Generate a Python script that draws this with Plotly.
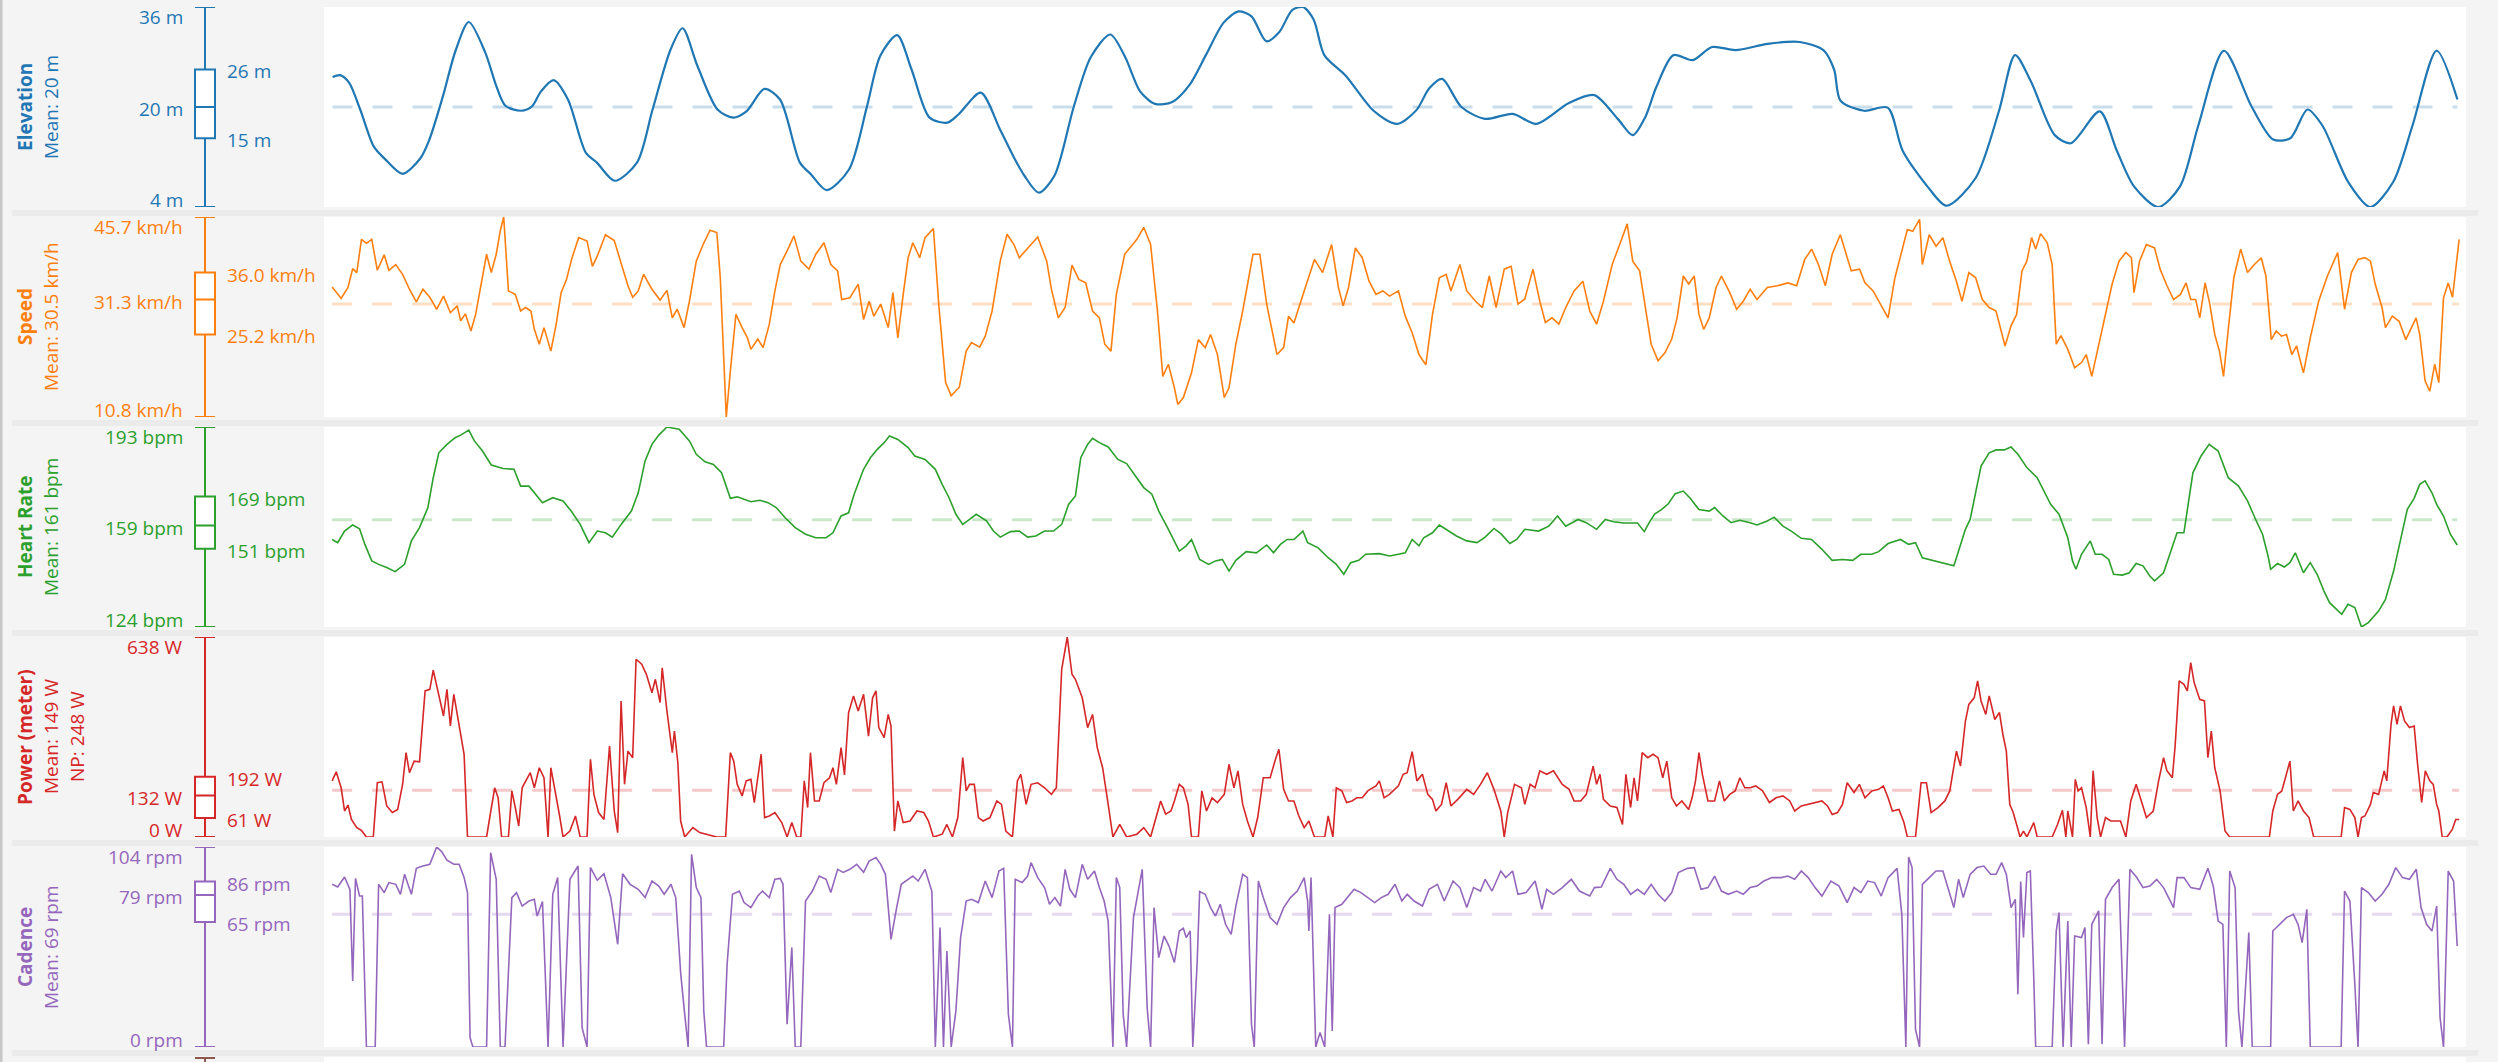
import plotly.graph_objects as go

W, H = 2498, 1062
FONT = "Open Sans"

# ---------------- data (x = ride progress 0..1000) ----------------
elev_t = [4.0,7.5,11.7,16.9,23.2,28.4,36.7,45.0,49.2,55.5,61.6,67.6,75.3,80.5,84.7,92.0,97.1,101.3,107.2,113.9,
          122.2,127.4,135.7,146.1,153.4,161.8,167.4,174.3,183.7,191.0,197.2,205.6,212.9,222.2,227.4,234.7,245.1,253.5,259.7,267.6,
          274.3,282.7,291.0,296.2,306.6,315.6,
          322,327,333.7,341,350,358,367.1,
          374,381,388,396,404,412,420,427,433,440,446,452,457,462,467,477,490,501,510,516,
          522,531,542,555,566,581,593,604,611,617,622,630,639,648,659,674,689,700,705,708,
          719,730,737,749,757.5,771,782,789.5,797,808,815.5,829,837,845,856.4,866.5,875,887,900,910,
          918,926,933,945,955.3,966,975,986.3,996]
elev_m = [24.8,25.1,23.9,19.6,13.7,11.7,9.3,11.8,14.8,21.7,29.2,33.6,28.7,23.3,20.2,19.4,20.1,22.5,24.3,21.2,
          12.7,11.1,8.2,11.1,19.6,29.2,32.6,26.6,19.6,18.3,19.3,22.9,21.2,11.1,9.2,6.7,10.0,20.1,28.2,31.5,
          26.0,18.3,17.5,18.8,22.3,16.4,
          12,9,6.3,9,20,28,31.6,
          28,22.5,20.5,20.8,23.5,28.5,33.5,35.3,34.5,30.5,32,35.5,36,34,28.3,25,19.4,17.3,19.5,23,
          24.5,20,18.1,18.9,17.3,20.6,21.9,18.1,15.5,18.5,23.2,28.3,27.5,29.6,29.1,30.1,30.4,29.1,26,21,
          19.4,19.9,13,7.1,4.2,8.6,19.4,28.3,24,15.5,14.2,19.3,13,7.3,4,7.3,17,29,20,14.8,
          15,19.6,17,8,4,8,17,29,21.2]

speed_t = [3.8,8,11.2,13.4,15.3,17.5,19.8,22.3,24.9,28.1,30.3,33.5,36.7,39.9,43.1,46.2,49.4,52.6,55.8,59,
           62.2,63.8,66,68.6,70.8,73.3,75.9,78.1,80.4,82.3,83.9,86.1,89.3,91.8,94.1,96.6,98.2,100.5,102.7,105.9,
           108.4,110.7,113.2,115.8,118.9,122.8,125.3,127.6,131.4,135.5,138.7,141.9,144.1,146.7,149.2,153.1,156.9,160.1,162.6,164.9,
           168.1,170.6,173.8,177,180.2,183.4,185,186.6,187.8,189.7,192.3,195.2,197.7,199.3,202.5,205,207.9,210.5,213,216.2,
           219.4,222.6,226.4,229.6,233.4,236.6,239.8,241.7,245.5,249.4,251.9,254.5,256.7,259.9,263.4,265.6,267.9,270.4,272.7,274.9,
           278.1,280.6,284.5,287,290.2,292.8,296.6,299.8,302.3,306.1,308.7,311.9,315.7,318.9,322.1,324.6,328.5,333.2,337.4,339.6,
           342.8,346,349.2,352.4,355.6,358.8,362,364.5,367.4,369.9,373.8,376.3,379.5,382.7,385.9,389.1,391.6,394.2,397,398.6,
           401.2,405,408.2,411.4,413.9,417.1,420.3,422.5,425.7,428.9,433.7,436.9,440.1,444.9,448,450.3,452.8,457.6,462.4,466.2,
           470.4,473.6,475.8,478.3,481.5,484.7,487.9,491.1,494.3,497.4,
           501.6,504.8,508,511.2,514.4,517.5,520.7,523.9,526.1,530.3,533.5,537.6,540.8,544,547.2,551,554.2,557.4,560.6,564.4,
           567.6,570.2,573.3,576.5,579.7,583.6,587.7,590.9,594.1,597.3,601.4,605.2,608.4,611,614.2,617.4,619.6,622.8,626,629.2,
           631.7,634.6,637.1,639.7,641.9,644.1,646.7,649.9,652.4,656.3,659.5,662.6,665.8,669,673.8,678.6,683.4,687.5,691.3,694.5,
           697.7,700.9,704.1,707.9,710.5,713,716.9,719.4,723.2,727,730.2,733.4,736.6,739.2,741.7,744.9,746.2,749.4,752.6,755.8,
           758.9,762.1,764.7,767.9,771.1,774.2,777.4,780.6,784.8,787.6,790.2,792.7,795,797.2,799.1,801.4,804.5,806.8,808.7,810.9,
           814.1,817.3,820.5,822.7,825.3,828.5,831.7,834.8,838,841.2,843.8,845,847.6,850.8,854.6,857.2,860.4,863.5,866.7,869.3,
           871.5,873.8,875.7,878.2,880.4,882.7,884.9,886.8,889.1,891.6,894.8,898,901.2,904.4,906.6,909.1,911.4,913.9,916.2,918.7,
           920.9,924.1,927.3,931.2,935.3,940.1,943.3,946.5,949.6,952.8,955.4,957.6,960.8,962.4,965.6,968.8,971.9,975.1,976.7,978.4,
           980.9,983.1,985.4,987.3,989.5,991.7,993.7,996.8]
speed_kmh = [33.5,31.5,33.4,36.7,36,41.8,41.1,41.8,36.4,39.1,36.4,37.4,35.7,33.1,30.9,33.1,31.7,29.6,31.9,29,
             30.2,27.6,28.8,25.8,28.7,33.9,39.2,36,39.2,43.3,45.7,32.8,32.2,29.3,29.9,29.3,26.1,23.5,26.4,22.3,
             27,32.5,34.8,38.6,42.1,41.5,37.1,38.9,42.6,41.6,37.7,33.7,31.7,32.8,35.7,33.1,31.2,32.9,28.1,29.6,
             26.4,31,38,40.9,43.4,43,35.1,22.3,10.8,18.8,28.7,26.4,24.6,22.6,24.4,22.9,27,32.8,37.4,39.8,
             42.4,38,36.6,39.2,41.2,37.4,36.3,31.3,31.6,34,27.8,31,28.4,30.5,26.4,32.5,24.6,32.2,38.6,41.2,
             38.6,42.1,43.7,30.5,16.8,14.5,16,22.3,23.8,23,24.9,29.3,38,42.7,40.9,38.6,40.2,42.2,38,33.1,
             28.1,29.9,37.3,34.8,34.2,29.3,28.1,23.5,22.3,32.2,39.2,40.3,41.8,43.9,40.9,29.3,17.9,20,15.9,13,
             14.2,18.5,24.3,22.9,25.2,21.7,14.2,15.9,23.5,29.3,39.2,39.2,30.5,21.7,22.9,28.4,27.2,32.8,38.3,36,
             40.9,33.4,30.2,33.4,40.3,38.6,34.5,32.2,32.8,31.9,
             32.8,28.4,25.5,21.7,19.9,28.7,35.1,35.7,32.8,37.4,32.8,31,29.9,35.4,29.9,36.6,37.1,30.5,31.4,36.6,
             31,27.3,28.1,27,29.9,32.8,34.5,29.3,27,31,37.4,41.2,44.5,38,36.3,28.7,23.5,20.6,22,24.4,
             28.1,35.4,34,35.4,28.7,26.1,28.1,33.4,35.4,32.5,29.6,31,33.1,31.3,33.4,33.7,34.2,33.7,38.3,40.1,
             37.4,33.7,39.2,42.6,39.5,36.3,36.6,34.2,32.8,30.2,28.1,35.1,39.8,43.5,43.2,45.3,37.4,42.6,40.6,42.1,
             38,34.5,31,36,35.1,31.3,29.9,29.3,23.2,26.7,28.7,36.3,38,42.1,40.1,42.8,41.2,37.4,23.5,25,
             22.6,19.4,20.3,21.7,17.9,23.5,28.7,34,38,39.5,38.6,32.5,38,40.9,40.3,36.6,33.7,31.3,32.2,34.2,
             31.3,31.3,28.1,34.2,30.5,25.2,22.3,17.9,26.4,35.1,40.1,36,37.4,38.6,35.4,24.3,25.8,24.9,25.2,21.7,
             23.2,18.5,24.6,31,35.4,39.5,29.6,36,38.3,38.6,38,34,29.9,26.4,28.4,27.5,24.3,26.7,28.1,25.2,
             17.1,15.3,20,16.8,31.6,34.2,31.7,41.8]

hr_t = [3.8,6.4,9.6,13.4,16.6,19.1,22.3,25.5,29.3,33.2,37.6,40.8,44.6,48.5,51,53.6,57.4,61.2,63.8,67.6,
        70.2,74,78.1,83.6,88.7,91.8,95.7,98.9,102,106.8,111.6,115.4,119.6,123.7,127.6,131.4,134.6,138.7,143.5,146.7,
        149.9,153.1,156.3,160.1,165.8,170.6,173.8,177.9,181.8,185.6,188.2,189.7,192.9,196.1,199.3,203.5,207.3,211.1,215.3,220,
        224.8,229.6,234.4,237.6,241.4,244.9,247.5,251.9,255.1,258.3,261.5,264,267.9,272.7,275.8,280.6,285.4,288.6,291.8,295,
        298.2,301.4,304.5,309.3,312.5,315.7,320.5,324.6,328.5,332.3,336.4,340.6,344.4,347.6,350.8,353.3,356.5,358.8,362,366.1,
        370.6,374.7,379.5,382.7,386.5,389.7,393.8,397,399.3,402.5,405,408.8,413,416.2,419.4,422.5,425.7,430.5,435.3,440.1,
        443.3,446.5,449.6,452.8,457,459.2,464,468.8,472.6,476.1,479.3,483.1,486.3,492.7,497.4,
        501.6,504.8,508,511.2,513.4,517.5,520.7,524.9,528.7,533.5,538.3,542.1,546.2,549.4,553.6,556.8,560.6,567,571.8,575.9,
        579.7,585.5,589.3,594.1,598.2,602,606.8,613.2,616.4,618.6,621.2,624.4,627.6,630.8,634.6,637.8,641.9,646.7,649.2,653.1,
        656.9,661,665.8,669,673.8,677,681.1,685,689.7,694.5,699.3,704.1,708.9,713.7,717.5,722.6,725.8,730.2,736,739.8,
        743,746.2,751.9,755.8,760.9,763.1,766.3,768.5,771.1,773.6,777.4,780.6,784.4,787.6,790.8,795,799.8,803,806.1,810,
        814.1,816.3,817.9,820.5,824.6,826.9,830.1,833.2,835.5,839.6,842.8,846,849.2,852.4,854.6,858.8,861.9,865.1,868.3,872.5,
        876.3,880.1,884.3,889,893.8,898,901.8,905,907.6,908.8,912,915.2,917.8,920.3,924.1,927.3,930.5,933.7,936.3,939.4,
        942,944.9,948.1,951.2,954.4,959.2,962.4,966.2,969.4,972.6,975.8,978.4,980.9,984.1,986.3,989.5,992.7,995.9]
hr_bpm = [154.2,153.1,157.1,159.2,157.9,152.5,146.8,145.6,144.5,143.1,145.6,153.7,158.3,165.2,175.5,184.1,187,189.3,190.2,191.9,
          188.2,184.7,179.9,178.7,178.4,172.6,172.6,169.8,166.9,168.6,167.5,164,159.4,153.1,157.1,156.5,155,159.4,164,170.3,
          181.3,187,190.2,193,192.2,188.2,183.6,181,180.1,177.2,171.5,168.4,168.9,168,167.2,167.7,166.9,165.2,161.7,158.3,
          156,154.8,154.8,156.5,162.3,163.4,169.8,178.4,182.4,185.3,187.6,189.9,188.7,185.9,183,181.8,178.4,173.2,168.6,162.9,
          159.4,161.1,162.9,160.6,157.1,155,156.9,157.1,155,155.4,157.1,157.1,159.4,166.3,169.2,182.4,187,189.1,187.6,186.1,
          181.8,180.4,175.5,172.1,169.8,164,158.3,153.7,150.2,152,154.2,147.3,145.6,146.8,147.3,143.3,147,150,149.6,152.3,
          149.6,152.5,154.2,154.2,157.1,153.1,151.4,147.9,145.6,142.2,146.2,147,149.1,149.3,148.5,
          149.1,149.6,154.2,152,154.8,156.5,159.2,157.1,155.4,153.7,153.1,155,158,156.2,152.8,154.2,157.7,157.1,158.8,162.3,
          158.8,161.1,160,157.7,161.1,160.3,159.9,159.9,156.9,159.9,163,164.5,166.5,170,170.9,168.4,164.5,164,165.2,162.3,
          160,160.8,160,159.2,160.6,161.9,158.8,157.1,154.6,154.2,150.8,147,147.3,147,149.1,149.1,150,152.8,154.2,152.5,
          153.1,147.9,146.8,145.9,145.1,150.2,157.7,161.1,170.9,179.5,184.1,185.1,185.1,186.1,183.6,179,175.5,170.9,166.3,162.9,
          154.8,146.8,143.9,149.1,153.7,149.1,149.1,147.3,142.2,141.9,142.7,145.9,145.1,141.6,139.9,142.7,149.6,156.5,156.5,177.2,
          183,187,184.7,175.5,172.6,167.5,161.1,156,148.5,143.9,145.9,144.7,146.2,149.6,142.7,146.2,142.2,136.4,132.4,130.1,
          128.4,131.8,130.7,124,125.5,129.5,133.5,143.3,153.7,164.6,168.4,173.2,174.4,170.3,166.3,162.3,156,152.3]

power_t = [3.8,5.7,8,9.6,11.2,12.8,15.3,17.5,19.8,23,24.9,27.1,29.3,31.9,34.4,36.7,38.3,39.9,42.1,44.6,
           47.2,49.4,51,53.6,55.8,57.4,59,60.6,63.1,65.4,67,75.9,77.5,79.7,81.3,82.9,86.1,87.7,89.3,90.9,
           92.5,94.4,96.3,98.2,100.5,102.7,104.6,105.9,107.8,110,111.6,114.8,117.4,119.6,122.8,124.4,126,128.2,130.7,133.3,
           135.5,137.1,138.7,140.3,141.9,144.1,145.7,148.3,150.5,153.1,154.7,156.9,157.9,160.1,162.6,163.6,165.2,166.5,168.4,172.2,
           175.4,178.6,183.4,187.5,188.2,189.7,191.3,192.9,195.2,197.1,199.3,200.9,202.5,204.1,205.7,207.9,210.5,213.7,216.2,218.4,
           220.7,222.6,224.2,225.8,227.1,229,231.2,233.4,236,237.6,239.2,241.4,243,244.9,247.2,249.4,251.9,254.2,256.1,257.7,
           259,261.5,263.4,264.7,266.3,267.9,270.4,273.6,276.8,280,282.2,284.5,288.6,290.8,293.4,295.9,298.2,299.8,301.4,303.6,
           305.5,307.7,310.9,314.1,316.3,318.3,321.4,323.7,325.3,327.8,330.1,333.2,336.4,339.6,341.9,344.4,347,349.2,350.8,354,
           356.5,358.8,361,363.5,366.1,368.3,371.5,374.7,379.5,382.7,385.9,388.4,390.6,392.9,395.4,397,399.3,401.2,403.4,405,
           408.2,409.8,412,414.6,417.1,420.3,422.5,424.8,426.7,428.9,431.1,433.7,435.9,438.5,441.7,444.2,445.8,448,450.3,452.8,
           455.1,457.6,459.8,462.4,467.2,468.8,471,472.6,475.2,477.4,479.9,482.2,484.7,487.3,491.1,492.7,494.9,497.4,
           501.6,503.8,505.7,508,510.2,512.8,515.3,517.5,519.1,521.7,523.9,526.1,529.3,533.5,536.7,539.9,543.1,546.2,549.4,551,
           552.6,555.8,559,560.6,563.1,565.4,567.6,570.8,574,578.1,581.3,583.6,586.7,589.3,592.5,594.1,595.7,597.3,600.5,603.6,
           606.2,607.8,610,611.6,613.2,615.4,618,620.5,622.8,625,626.9,629.2,631.4,633.9,637.1,638.7,640.3,641.9,643.5,646.1,
           649.2,651.5,653.7,656.3,658.8,661,663.3,665.8,668.4,671.6,674.8,677.9,681.1,684.3,686.6,689.7,692.9,696.1,699.3,701.9,
           704.1,706.6,708.9,711.1,714.3,716.8,719.4,722.6,725.8,728,730.2,732.2,735.3,737.6,739.2,743,745.6,748.1,750.3,753.5,
           756.7,759,760.9,762.1,764,766.3,767.9,770.4,772,773.6,775.8,777.4,780,782.2,783.8,785.4,787,788.6,790.2,791.8,
           793.4,795,798.2,799.8,806.8,809.3,811.6,813.2,814.1,816.3,817.6,818.9,820.5,822.7,824.6,825.9,827.8,829.4,831.7,834.2,
           836.4,838.7,841.2,843.5,846,848.2,850.8,854,856.5,858.8,860.4,862.9,864.2,866.1,868.3,869.9,871.5,873.1,875.7,877.9,
           879.5,881.1,882.7,885.2,887.5,889.7,908.2,909.8,912,914,916.2,917.8,919.4,921.6,924.1,926.7,928.9,941.7,943.3,945.8,
           948.1,949.6,951.2,952.8,955.4,956.7,959.2,961.8,963,965,966.2,967.8,969.4,971.3,973.6,975.8,977.4,979.3,981,983.1,
           984.7,986.3,987.3,988.9,991.1,993.6,995.2,996.8]
power_w = [179,208,157,83,102,56,30,21,0,0,173,176,99,78,88,168,269,205,242,240,
           466,471,532,455,386,471,354,455,354,264,0,0,67,157,125,0,0,147,94,35,
           157,179,205,157,221,189,0,221,152,67,0,19,67,0,0,248,136,78,56,290,
           83,14,434,168,274,253,567,551,519,460,503,429,540,402,269,338,237,51,0,30,
           14,9,0,0,83,269,242,168,131,179,184,110,189,264,62,67,78,46,0,46,
           0,0,179,94,269,115,115,173,189,221,168,285,198,397,450,402,455,322,444,466,
           349,317,391,354,19,115,46,51,83,78,51,0,9,40,0,62,253,147,168,168,
           62,51,62,115,104,19,0,179,200,104,168,173,157,136,157,535,638,519,503,444,
           349,391,285,221,104,0,40,0,9,30,0,62,115,73,83,115,168,157,104,0,
           0,147,83,125,110,136,232,157,211,104,51,0,62,189,189,248,280,152,115,115,
           67,30,51,0,0,67,0,157,147,110,115,125,125,147,163,179,125,136,
           163,200,205,272,179,200,136,120,83,104,173,99,120,152,136,168,205,152,83,0,
           78,168,157,104,168,157,211,200,211,168,152,115,115,136,226,168,200,120,99,94,
           40,200,94,189,115,269,253,264,253,189,242,125,99,115,88,125,179,269,200,115,
           115,179,115,136,147,189,157,157,163,147,110,125,131,115,83,99,104,110,115,99,
           72,78,104,173,142,168,125,147,152,163,125,83,88,46,0,0,173,173,78,94,
           115,147,221,274,226,370,423,444,498,434,391,450,375,397,327,274,104,78,40,0,
           19,0,46,0,0,40,85,0,83,0,184,147,157,94,0,211,62,0,62,51,
           51,51,0,115,168,120,62,83,179,253,211,189,290,498,487,466,556,492,439,434,
           253,338,221,147,19,0,0,83,136,147,200,242,83,115,83,62,0,0,94,88,
           62,0,62,67,104,142,136,211,179,359,418,359,418,370,349,354,232,110,211,179,
           168,104,83,0,0,24,56,56]

cad_t = [3.8,6.4,9.6,12.1,13.4,14.7,16.6,17.9,19.8,23.9,25.5,28.1,30.3,33.5,35.7,37.6,40.8,43.1,46.2,49.4,
         52.6,54.9,57.4,60.6,63.1,65.4,67,68.2,69.5,75.9,77.8,80.4,82.3,84.5,87.7,89.9,92.5,95.7,98.2,99.5,
         102,104.6,106.8,109.1,111.6,114.8,118.6,120.5,122.8,124.4,127.6,130.7,133.9,137.1,139.4,142.9,146.7,149.9,153.1,156.3,
         158.8,162,164.2,166.5,168.4,170,171.6,173.8,176,177.3,178.6,186.6,188.2,190.7,193.9,196.1,199.3,202.5,204.7,207.9,
         210.5,213,214.3,216.2,218.4,220,222.6,224.8,228,231.2,234.4,236.6,239.8,242.4,245.5,248.7,251.9,254.5,257.7,259.9,
         262.1,264.7,267.2,269.5,272.7,274.9,277.4,280.6,283.8,285.4,287.6,289.2,290.8,292.8,295,297.2,299.8,302.3,305.5,308.7,
         311.9,315.1,317.3,319.5,321.4,322.7,325.9,328.5,330.1,333.2,336.4,338.7,341.2,343.8,346,348.2,350.8,354,356.5,359.7,
         362,364.2,366.1,367.4,368.3,369.9,371.5,373.1,374.7,377.9,379.5,382,384.3,385.9,387.5,389.7,392.2,394.5,397,399.3,
         401.2,402.5,404.4,405.6,407.6,408.8,411.4,413.9,416.2,418.4,420.9,423.5,425.7,428.9,431.1,433,434.3,436.2,438.5,441.7,
         444.9,448,451.2,454.4,457.6,459.2,459.8,460.8,463,465,467.2,469.4,470.7,472,475.2,478.3,480.9,484.1,487.3,490.5,
         493.6,496.8,
         500,503.2,505.7,508.9,512.8,515.9,519.8,523,527.1,530.3,533.5,536.7,539.9,542.1,545.3,549.4,551.7,554.9,557.4,561.2,
         565.4,568.6,570.8,574,578.1,582.3,586.1,590.9,593.1,596.3,600.5,603.6,606.8,610,613.2,616.4,619.6,622.8,626,629.2,
         632.3,636.5,639.7,642.9,646.1,649.2,652.4,655.6,659.5,662.6,665.8,669,672.2,676,680.2,683.4,686.6,689.7,692.9,696.1,
         699.3,703.5,707.3,711.1,714.3,717.5,720.7,723.9,727,730.2,734.4,736.6,738.5,739.8,741.4,743,744.9,746.2,749.4,752.6,
         755.8,758.9,760.9,763.1,765.3,768.5,771.7,774.9,778.1,780.6,783.2,785.4,787.6,789.6,790.8,792.1,793.4,795,796.6,798.2,
         799.1,806.8,808.7,810,811.9,814.1,815.7,817.3,820.5,822.1,823.7,825.3,828.5,830.1,831.7,834.8,838,840.6,843.1,846.3,
         849.2,852.4,855.6,858.8,863.5,865.1,868.3,871.5,875.7,879.5,882,884.3,886.5,888.1,889.7,892.2,893.8,895.4,898.6,900.2,
         908.8,909.8,913,916.2,919.4,921.6,923.5,925.7,927.3,941.7,943.3,945.8,948.1,949.6,951.2,954.4,957.6,960.8,964,967.2,
         970.4,973.6,976.8,979,981.6,984.1,986.3,987.9,989.5,991.7,994.2,995.9]
cad_rpm = [84.6,83.2,88.4,82,34.3,87.7,78.5,78.5,0,0,84.6,80.3,85.5,84.6,79.4,89.8,79.4,92.9,94.1,95,
           104,101.6,97.1,95,95,88.1,80.3,4.9,0,0,101.1,87.2,0,0,77.7,80.3,73.3,75.9,76.8,68.1,
           75.6,0,79.4,88.1,0,87.2,94.1,10.1,0,93.3,86.7,90.1,77.7,53.4,90.1,84.6,82,77.7,86.3,83.7,
           79.4,84.6,77.7,38.7,17,0,100.2,82.9,77.7,18.7,0,0,43,79.4,81.1,75.1,72.5,78.5,81.1,77.7,
           87.2,87.7,84.6,11.8,51.7,0,0,75.9,81.1,88.9,87.2,80.3,92.4,90.8,92.4,95,90.8,96.7,98.5,95,
           89.8,56,71.6,84.6,87.2,88.9,86.3,92.4,80.8,0,62.1,0,49.9,0,18.7,56.9,75.9,76.8,75.1,86.3,
           77.7,91.5,92.9,17,0,87.2,85.5,88.9,95.9,88.1,82.9,74.2,77.7,73.3,92.4,82,77.7,95,87.2,91.5,
           82.9,75.9,65.5,29.1,0,88.1,82.9,17,0,67.3,77.7,92.4,20.5,0,72.5,46.5,57.7,52.5,43.9,60.3,
           61.7,56.9,60.3,0,43,80.8,79.4,72.5,68.1,74.2,63.8,58.6,73.3,89.8,88.1,11.8,0,86.3,77.7,67.3,
           63.8,72.5,77.7,81.1,88.1,75.9,60.3,88.1,0,7.5,0,69,8.3,72.5,74.2,78.5,82,80.3,77.7,75.1,
           77.7,79.4,
           84.6,75.9,79.4,75.9,73.3,82,84.6,75.9,86.3,82.9,72.5,82.9,81.1,87.2,81.1,91.5,88.1,91.5,79.4,80.3,
           86.3,71.6,82,79.4,82.9,87.2,81.1,78.5,82.9,83.2,92.9,87.2,84.6,79.4,82,79.4,84.6,79.4,75.9,80.3,
           90.7,92.9,93.3,82,82.9,88.9,81.1,79.4,81.1,79.4,82.9,83.7,86.3,88.1,88.1,88.9,87.2,91.5,88.1,82.9,
           78.5,86.3,83.7,75.1,82.9,80.3,86.3,85.5,78.5,88.1,92.9,69,0,98.8,93.3,9.2,0,84.6,88.1,91.5,
           91.5,79.4,72.5,87.2,77.7,89.8,93.3,94.1,89.8,89.8,95.9,89.8,72.5,76.8,27.4,86,56.9,90.7,91.5,36.1,
           0,0,60.3,69.9,0,65.5,0,57.7,56.9,62.1,1.4,63.8,70.8,1.4,76.8,82.9,87.2,0,92.4,88.1,
           82.9,83.7,87.2,82.9,72.5,88.1,88.1,82.9,82,92.9,83.7,65.5,63.8,0,91.5,82.9,18.7,0,59.5,0,
           0,60.3,63.8,67.3,69,63.8,54.3,71.6,0,0,81.1,75.9,32.6,0,82.9,80.3,75.9,79.4,84.6,93.3,
           88.1,87.2,92.4,72.5,63.8,60.3,73.3,15.3,0,91.5,86.3,52.5]

# box-plot summaries [min, q1, median, q3, max] and mean values shown on the left
elev_stats = [4, 15, 20, 26, 36]
speed_stats = [10.8, 25.2, 31.3, 36.0, 45.7]
hr_stats = [124, 151, 159, 169, 193]
power_stats = [0, 61, 132, 192, 638]
cad_stats = [0, 65, 79, 86, 104]
means = [20, 30.5, 161, 149, 69]
next_panel_max_label = "71.3 N"   # top of the (cut-off) sixth panel

panels = [
    dict(title="Elevation", sub=["Mean: 20 m"], color="#1f77b4", t=elev_t, v=elev_m,
         stats=elev_stats, fmt=lambda v: f"{v:.0f} m", lw=2.2, shape="spline"),
    dict(title="Speed", sub=["Mean: 30.5 km/h"], color="#ff7f0e", t=speed_t, v=speed_kmh,
         stats=speed_stats, fmt=lambda v: f"{v:.1f} km/h", lw=1.6, shape="linear"),
    dict(title="Heart Rate", sub=["Mean: 161 bpm"], color="#2ca02c", t=hr_t, v=hr_bpm,
         stats=hr_stats, fmt=lambda v: f"{v:.0f} bpm", lw=1.6, shape="linear"),
    dict(title="Power (meter)", sub=["Mean: 149 W", "NP: 248 W"], color="#d62728", t=power_t, v=power_w,
         stats=power_stats, fmt=lambda v: f"{v:.0f} W", lw=1.6, shape="linear"),
    dict(title="Cadence", sub=["Mean: 69 rpm"], color="#9467bd", t=cad_t, v=cad_rpm,
         stats=cad_stats, fmt=lambda v: f"{v:.0f} rpm", lw=1.6, shape="linear"),
]


def rgba(h, a):
    h = h.lstrip("#")
    return f"rgba({int(h[0:2],16)},{int(h[2:4],16)},{int(h[4:6],16)},{a})"


def axname(n):
    return ("x" if n == 1 else f"x{n}"), ("y" if n == 1 else f"y{n}")


def axkey(n):
    return ("xaxis" if n == 1 else f"xaxis{n}"), ("yaxis" if n == 1 else f"yaxis{n}")


fig = go.Figure()
layout = {}
shapes = []
annotations = []

PX0, PX1 = 324, 2466      # line plot area (pixels)
BOX_CX, BOX_W = 205, 20   # box center / width (pixels)
LBL_L, LBL_R = 185, 225
FS = 19

for i, p in enumerate(panels):
    c = p["color"]
    top = 7 + 210 * i
    bot = top + 200
    ydom = [1 - bot / H, 1 - top / H]
    lo, q1, med, q3, hi = p["stats"]
    yr = [lo, hi]

    n_line, n_box = i + 1, i + 6
    lx, ly = axname(n_line)
    bx, by = axname(n_box)
    klx, kly = axkey(n_line)
    kbx, kby = axkey(n_box)

    layout[klx] = dict(domain=[PX0 / W, PX1 / W], range=[0, 1000], visible=False, fixedrange=True)
    layout[kly] = dict(domain=ydom, range=yr, visible=False, fixedrange=True)
    layout[kbx] = dict(domain=[0, PX0 / W], range=[-BOX_CX / BOX_W, (PX0 - BOX_CX) / BOX_W],
                       visible=False, fixedrange=True)
    layout[kby] = dict(domain=ydom, range=yr, visible=False, fixedrange=True)

    # white plotting area
    shapes.append(dict(type="rect", xref=f"{lx} domain", yref=f"{ly} domain", x0=0, x1=1, y0=0, y1=1,
                       fillcolor="white", line=dict(width=0), layer="below"))

    # mean line
    fig.add_trace(go.Scatter(x=[p["t"][0], p["t"][-1]], y=[means[i], means[i]], mode="lines",
                             line=dict(color=rgba(c, 0.25), width=3, dash="20px,20px"),
                             hoverinfo="skip", xaxis=lx, yaxis=ly))
    # data line
    fig.add_trace(go.Scatter(x=p["t"], y=p["v"], mode="lines",
                             line=dict(color=c, width=p["lw"], shape=p["shape"], smoothing=0.8),
                             hoverinfo="skip", xaxis=lx, yaxis=ly, cliponaxis=True))

    # box plot
    fig.add_trace(go.Box(x=[0], q1=[q1], median=[med], q3=[q3], lowerfence=[lo], upperfence=[hi],
                         width=1, whiskerwidth=1, fillcolor="white", line=dict(color=c, width=2),
                         hoverinfo="skip", xaxis=bx, yaxis=by))

    # box labels
    xl = (LBL_L - BOX_CX) / BOX_W
    xr = (LBL_R - BOX_CX) / BOX_W
    tf = dict(color=c, size=FS, family=FONT)
    for val, xa, ya, xx, ys in [(hi, "right", "top", xl, 5), (med, "right", "middle", xl, -2),
                                (lo, "right", "bottom", xl, -8), (q3, "left", "middle", xr, -2),
                                (q1, "left", "middle", xr, -2)]:
        annotations.append(dict(text=p["fmt"](val), x=xx, y=val, xref=bx, yref=by,
                                xanchor=xa, yanchor=ya, yshift=ys, showarrow=False, font=tf))

    # rotated titles
    ymid = 1 - (top + bot) / 2 / H
    lines = [f"<b>{p['title']}</b>"] + p["sub"]
    for j, txt in enumerate(lines):
        annotations.append(dict(text=txt, x=(25 + 26 * j) / W, y=ymid, xref="paper", yref="paper",
                                xanchor="center", yanchor="middle", textangle=-90, showarrow=False,
                                font=dict(color=c, size=FS, family=FONT)))

    # separator band below panel
    sep_top = bot + 3
    shapes.append(dict(type="rect", xref="paper", yref="paper", x0=12 / W, x1=2478 / W,
                       y0=1 - (sep_top + 6) / H, y1=1 - sep_top / H,
                       fillcolor="#ebebeb", line=dict(width=0), layer="below"))

# sixth panel (mostly below the visible window)
top6 = 7 + 210 * 5
shapes.append(dict(type="rect", xref="paper", yref="paper", x0=PX0 / W, x1=PX1 / W,
                   y0=1 - (top6 + 200) / H, y1=1 - top6 / H,
                   fillcolor="white", line=dict(width=0), layer="below"))
shapes.append(dict(type="line", xref="paper", yref="paper", x0=(BOX_CX - 10) / W, x1=(BOX_CX + 10) / W,
                   y0=1 - (top6 + 1) / H, y1=1 - (top6 + 1) / H, line=dict(color="#8c564b", width=2)))
shapes.append(dict(type="line", xref="paper", yref="paper", x0=BOX_CX / W, x1=BOX_CX / W,
                   y0=1 - (top6 + 1) / H, y1=1 - (top6 + 20) / H, line=dict(color="#8c564b", width=2)))
annotations.append(dict(text=next_panel_max_label, x=LBL_L / W, y=1 - (top6 + 1) / H, xref="paper", yref="paper",
                        xanchor="right", yanchor="top", yshift=5, showarrow=False,
                        font=dict(color="#8c564b", size=FS, family=FONT)))

# left border line
shapes.append(dict(type="rect", xref="paper", yref="paper", x0=0, x1=2.5 / W, y0=0, y1=1,
                   fillcolor="#c8c8c8", line=dict(width=0), layer="below"))

fig.update_layout(
    width=W, height=H, autosize=False,
    margin=dict(l=0, r=0, t=0, b=0, pad=0),
    paper_bgcolor="#f4f4f4", plot_bgcolor="rgba(0,0,0,0)",
    showlegend=False, shapes=shapes, annotations=annotations,
    font=dict(family=FONT),
    **layout,
)

fig.write_html("out.html", config=dict(displayModeBar=False))
